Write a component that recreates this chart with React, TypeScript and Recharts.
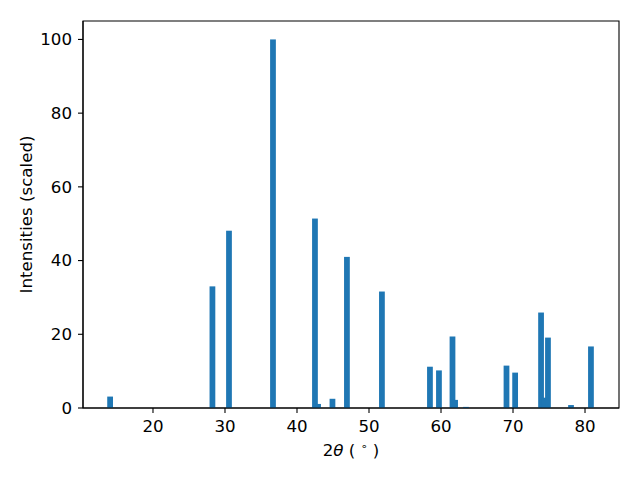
import { BarChart, Bar, XAxis, YAxis, ReferenceArea, Label } from "recharts";

// peak positions (2theta, degrees) and scaled intensities
const twoTheta = [
  14.05, 28.26, 30.56, 36.67, 42.5, 42.93, 44.93, 46.94, 51.8, 58.47, 59.72,
  61.6, 61.96, 63.47, 69.1, 70.3, 73.9, 74.3, 74.86, 78.06, 80.83,
];
const intensity = [
  3.1, 33.0, 48.1, 100, 51.4, 1.1, 2.5, 41.0, 31.6, 11.2, 10.2, 19.4, 2.2, 0.3,
  11.5, 9.6, 25.9, 2.8, 19.1, 0.8, 16.7,
];

const xTicks = [20, 30, 40, 50, 60, 70, 80];
const yTicks = [0, 20, 40, 60, 80, 100];
const xDomain = [10.28, 84.72];
const yDomain = [0, 105];

const data = twoTheta.map((x, i) => ({ x, y: intensity[i] }));

const FONT = "'DejaVu Sans', sans-serif";
const FS = 16.67;
const BLUE = "#1f77b4";
// matplotlib default bar width 0.8 (in data units) -> px over 536px plot
const BAR_W = (0.8 * 536) / (xDomain[1] - xDomain[0]);

function PeakBar(props: any) {
  const { x, y, width, height } = props;
  if (height == null || height <= 0) return null;
  const cx = x + width / 2;
  return <rect x={cx - BAR_W / 2} y={y} width={BAR_W} height={height} fill={BLUE} />;
}

const tickStyle = { fill: "#000", fontSize: FS, fontFamily: FONT };

export default function App() {
  return (
    <div style={{ position: "absolute", left: 0, top: 0, width: 640, height: 480, background: "#fff" }}>
      <BarChart
        width={640}
        height={480}
        data={data}
        margin={{ top: 21, right: 21, left: 0, bottom: 0 }}
      >
        <XAxis
          dataKey="x"
          type="number"
          domain={xDomain}
          ticks={xTicks}
          allowDataOverflow
          height={72}
          tickSize={5}
          tickMargin={7}
          tick={tickStyle}
          axisLine={{ stroke: "#000", strokeWidth: 1.1 }}
          tickLine={{ stroke: "#000", strokeWidth: 1.1 }}
        >
          <Label
            content={({ viewBox }: any) => (
              <text
                x={viewBox.x + viewBox.width / 2}
                y={456}
                textAnchor="middle"
                fontFamily={FONT}
                fontSize={FS}
                fill="#000"
                style={{ whiteSpace: "pre" }}
              >
                2<tspan fontStyle="italic">θ</tspan>{" ( "}
                <tspan fontSize={11} dy={-6}>∘</tspan>
                <tspan dy={6}>{" )"}</tspan>
              </text>
            )}
          />
        </XAxis>
        <YAxis
          type="number"
          domain={yDomain}
          ticks={yTicks}
          allowDataOverflow
          width={83}
          tickSize={5}
          tickMargin={6}
          tick={tickStyle}
          axisLine={{ stroke: "#000", strokeWidth: 1.1 }}
          tickLine={{ stroke: "#000", strokeWidth: 1.1 }}
        >
          <Label
            content={({ viewBox }: any) => {
              const cy = viewBox.y + viewBox.height / 2;
              return (
                <text
                  x={26}
                  y={cy}
                  transform={`rotate(-90, 26, ${cy})`}
                  textAnchor="middle"
                  dominantBaseline="central"
                  fontFamily={FONT}
                  fontSize={FS}
                  fill="#000"
                >
                  Intensities (scaled)
                </text>
              );
            }}
          />
        </YAxis>
        <Bar dataKey="y" shape={<PeakBar />} isAnimationActive={false} />
        <ReferenceArea
          x1={xDomain[0]}
          x2={xDomain[1]}
          y1={yDomain[0]}
          y2={yDomain[1]}
          ifOverflow="visible"
          fill="none"
          fillOpacity={0}
          stroke="#000"
          strokeWidth={1.1}
        />
      </BarChart>
    </div>
  );
}
